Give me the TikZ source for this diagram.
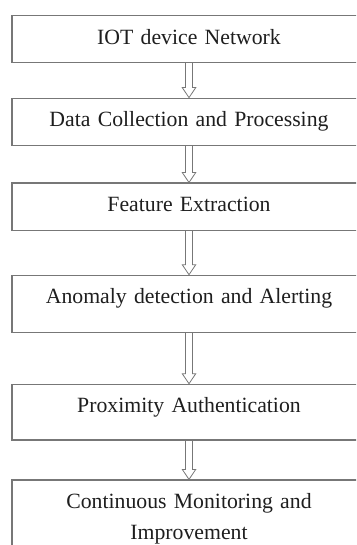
\documentclass[tikz,border=0pt]{standalone}
\usepackage{fontspec}
\setmainfont{Liberation Serif}
\usetikzlibrary{positioning,calc}

\definecolor{framegray}{HTML}{777777}
\definecolor{inkgray}{HTML}{1E1E1E}

\begin{document}
\begin{tikzpicture}[x=1pt, y=1pt,
		every node/.style={font=\fontsize{21.75pt}{31pt}\selectfont, text=inkgray},
		stage/.style={draw=framegray, line width=1.2pt, text width=340pt, align=center,
			inner xsep=7pt, inner ysep=0pt, text height=28.5pt},
		flow/.style={draw=framegray, line width=0.8pt, line join=miter}]
	\useasboundingbox (0,0) rectangle (356,-545);
	\clip (0,0) rectangle (356,-545);
	\node[stage, text depth=18.5pt, anchor=north] (net) at (189,-15) {IOT device Network};
	\node[stage, text depth=18.5pt, below=34.4pt of net] (collect) {Data Collection and Processing};
	\node[stage, text depth=18.5pt, below=36.7pt of collect] (feat) {Feature Extraction};
	\node[stage, text depth=28.3pt, below=44pt of feat] (anom) {Anomaly detection and Alerting};
	\node[stage, text depth=27.2pt, below=51pt of anom] (prox) {Proximity Authentication};
	\node[stage, text depth=80pt, below=38.8pt of prox] (monitor) {Continuous Monitoring and\\ Improvement};
	% hollow block arrows between the stages
	\foreach \a/\b in {net/collect, collect/feat, feat/anom, anom/prox, prox/monitor}
		\draw[flow] ($(\a.south)+(-3.5,0)$) -- ($(\b.north)+(-3.5,10)$) -- ++(-3.25,0) -- (\b.north)
			-- ($(\b.north)+(6.75,10)$) -- ++(-3.25,0) -- ($(\a.south)+(3.5,0)$);
\end{tikzpicture}
\end{document}
